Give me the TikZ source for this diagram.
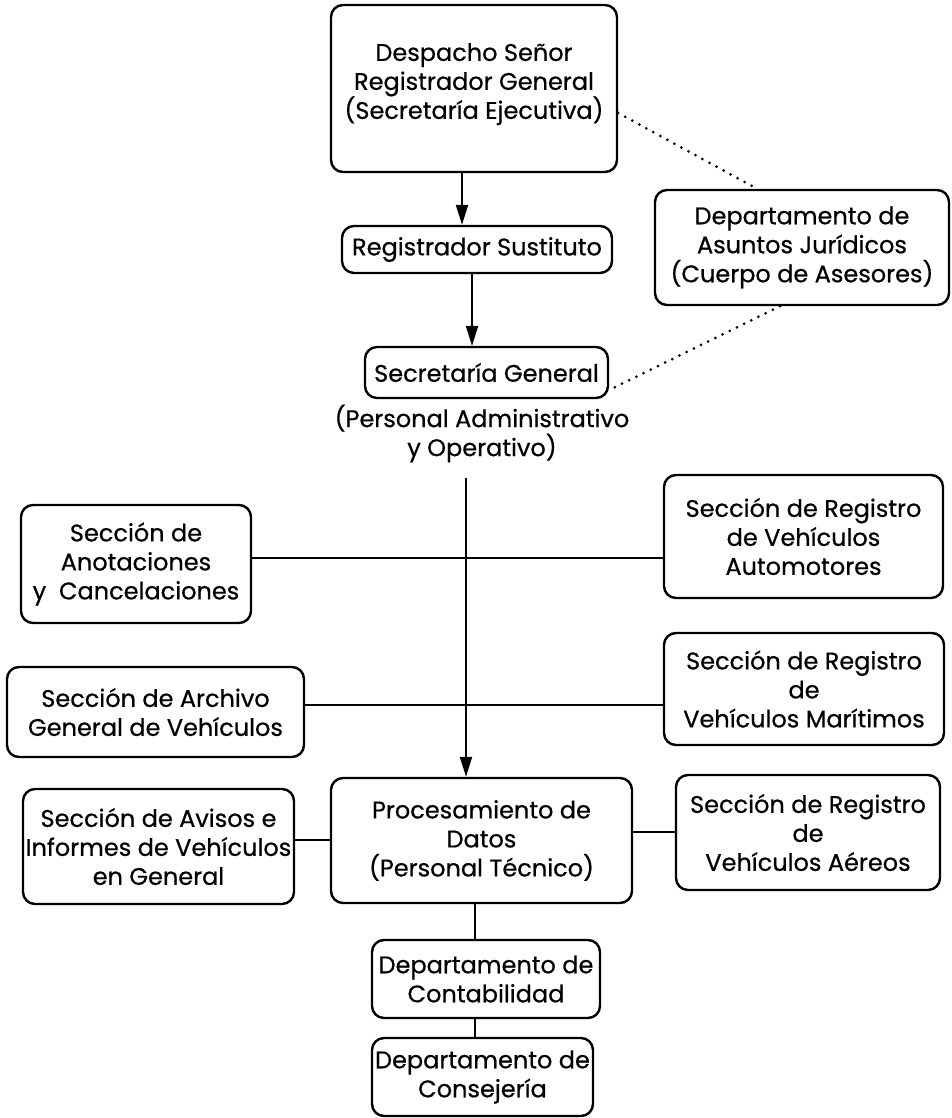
\documentclass[tikz,border=0pt]{standalone}
\usepackage{fontspec}
\setmainfont{Poppins}[FakeBold=0.6]
\usetikzlibrary{arrows.meta}
\begin{document}
\begin{tikzpicture}[x=1pt,y=-1pt,
  box/.style={draw=black, line width=2.4pt, rounded corners=12pt, align=center,
    inner sep=0pt, font=\fontsize{24}{29}\selectfont},
  lbl/.style={align=center, inner sep=0pt, font=\fontsize{24}{29}\selectfont},
  con/.style={line width=2.2pt},
  arr/.style={line width=2.2pt, -{Triangle[length=20pt,width=12pt]}},
  dots/.style={line width=3pt, dash pattern=on 0pt off 8pt, line cap=round}]
\useasboundingbox (0,0) rectangle (951,1118);
\node[box, minimum width=286pt, minimum height=167pt] (desp) at (474,88.5) {Despacho Señor\\Registrador General\\(Secretaría Ejecutiva)\\[-14pt]\mbox{}};
\node[box, minimum width=270pt, minimum height=47pt] (sust) at (477,249.5) {Registrador Sustituto};
\node[box, minimum width=243pt, minimum height=51pt] (secg) at (486.5,372.5) {Secretaría General};
\node[lbl] (pers) at (482,433.5) {(Personal Administrativo\\y Operativo)};
\node[box, minimum width=294pt, minimum height=115pt] (asun) at (802,247.5) {Departamento de\\Asuntos Jurídicos\\(Cuerpo de Asesores)};
\node[box, minimum width=230pt, minimum height=118pt] (anot) at (136,564) {Sección de\\Anotaciones\\y\ \ Cancelaciones};
\node[box, minimum width=279pt, minimum height=123pt] (auto) at (803.5,536.5) {Sección de Registro\\de Vehículos\\Automotores};
\node[box, minimum width=297pt, minimum height=90pt] (arch) at (155.5,712) {Sección de Archivo\\General de Vehículos};
\node[box, minimum width=280pt, minimum height=112pt] (mari) at (804,689) {Sección de Registro\\de\\Vehículos Marítimos};
\node[box, minimum width=301pt, minimum height=125pt] (proc) at (481.5,840.5) {Procesamiento de\\Datos\\(Personal Técnico)};
\node[box, minimum width=271pt, minimum height=115pt] (avis) at (158.5,846.5) {Sección de Avisos e\\Informes de Vehículos\\en General};
\node[box, minimum width=264pt, minimum height=115pt] (aere) at (808,832.5) {Sección de Registro\\de\\Vehículos Aéreos};
\node[box, minimum width=228pt, minimum height=78pt] (cont) at (486,979) {Departamento de\\Contabilidad};
\node[box, minimum width=221pt, minimum height=78pt] (cons) at (482.5,1077) {Departamento de\\Consejería};
\coordinate (vtop) at (466,478);
% connectors
\draw[arr] ([xshift=-12pt]desp.south) -- ([xshift=-12pt]desp.south |- sust.north);
\draw[arr] ([xshift=-5pt]sust.south) -- ([xshift=-5pt]sust.south |- secg.north);
\draw[arr] (vtop) -- (vtop |- proc.north);
\draw[con] ([yshift=6pt]anot.east) -- ([yshift=6pt]anot.east -| auto.west);
\draw[con] ([yshift=7pt]arch.east) -- ([yshift=7pt]arch.east -| mari.west);
\draw[con] ([yshift=6.5pt]avis.east) -- ([yshift=6.5pt]avis.east -| proc.west);
\draw[con] ([yshift=8.5pt]proc.east) -- ([yshift=8.5pt]proc.east -| aere.west);
\draw[con] ([xshift=-6.5pt]proc.south) -- ([xshift=-6.5pt]proc.south |- cont.north);
\draw[con] ([xshift=-11pt]cont.south) -- ([xshift=-11pt]cont.south |- cons.north);
\draw[dots] ([yshift=-24.5pt]desp.east) -- ([xshift=-45pt]asun.north);
\draw[dots] ([xshift=-22pt]asun.south) -- ([yshift=-17.5pt]secg.east);
\end{tikzpicture}
\end{document}
